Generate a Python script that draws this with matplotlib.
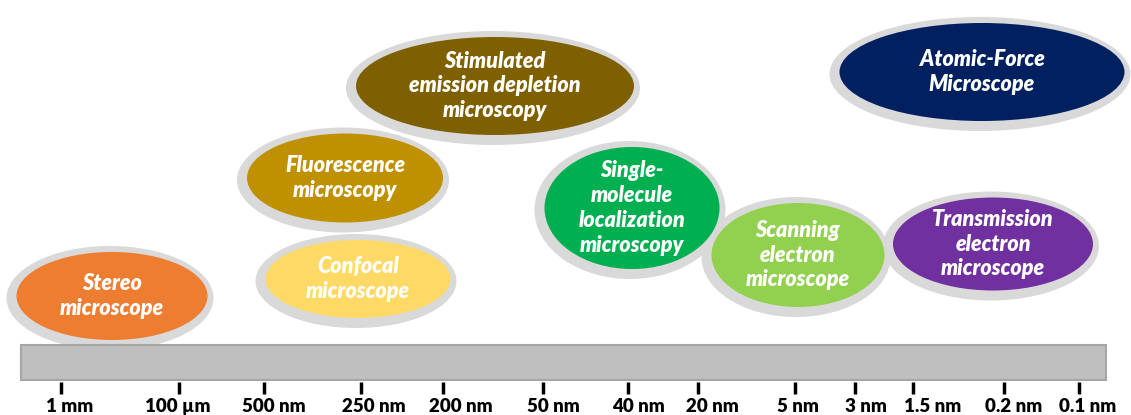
import matplotlib.pyplot as plt
from matplotlib.patches import Ellipse, Rectangle

plt.rcParams['font.family'] = ['Lato', 'DejaVu Sans']

# scale labels along the bar, where their ticks sit and where the labels sit (pixels)
scale_labels = ['1 mm', '100 µm', '500 nm', '250 nm', '200 nm', '50 nm', '40 nm',
                '20 nm', '5 nm', '3 nm', '1.5 nm', '0.2 nm', '0.1 nm']
tick_pos = [61, 179, 264, 361, 443, 543, 628, 698, 795, 855, 913, 1004, 1079]
label_pos = [70, 178, 274, 374, 461, 553, 638, 712, 798, 866, 933, 1014, 1088]

# microscopes: name, colour, centre x, centre y, width, height
names = ['Stereo\nmicroscope', 'Confocal\nmicroscope', 'Fluorescence\nmicroscopy',
         'Stimulated\nemission depletion\nmicroscopy',
         'Single-\nmolecule\nlocalization\nmicroscopy',
         'Scanning\nelectron\nmicroscope', 'Transmission\nelectron\nmicroscope',
         'Atomic-Force\nMicroscope']
colors = ['#ED7D31', '#FFD966', '#BF9000', '#7F6000', '#00B050', '#92D050',
          '#7030A0', '#002060']
cx = [112, 358, 345, 495, 632, 798, 993, 982]
cy = [296, 279, 178, 86, 208, 255, 244, 72]
widths = [191, 185, 196, 278, 175, 173, 200, 285]
heights = [88, 78, 89, 98, 122, 104, 93, 98]

fig = plt.figure(figsize=(11.31, 4.15), dpi=100)
ax = fig.add_axes([0, 0, 1, 1])
ax.set_xlim(0, 1131)
ax.set_ylim(415, 0)
ax.axis('off')

# grey rings first, so a later ellipse never hides an earlier fill
for x, y, w, h in zip(cx, cy, widths, heights):
    ax.add_patch(Ellipse((x - 2, y + 2), w + 16, h + 16, facecolor='#d9d9d9', edgecolor='none'))
for name, c, x, y, w, h in zip(names, colors, cx, cy, widths, heights):
    ax.add_patch(Ellipse((x, y), w, h, facecolor=c, edgecolor='none'))
    ax.text(x, y, name, color='white', fontsize=15.5, fontweight='heavy', fontstyle='italic',
            ha='center', va='center', linespacing=1.22, multialignment='center')

# the scale bar
ax.add_patch(Rectangle((21, 345), 1085, 35, facecolor='#bfbfbf', edgecolor='#a6a6a6', lw=1.5))
ax.vlines(tick_pos, 382, 394, color='black', lw=2.5)
for p, lab in zip(label_pos, scale_labels):
    ax.text(p, 412, lab, fontsize=13.5, fontweight='heavy', ha='center', va='baseline')

fig.savefig('out.png', dpi=100)
